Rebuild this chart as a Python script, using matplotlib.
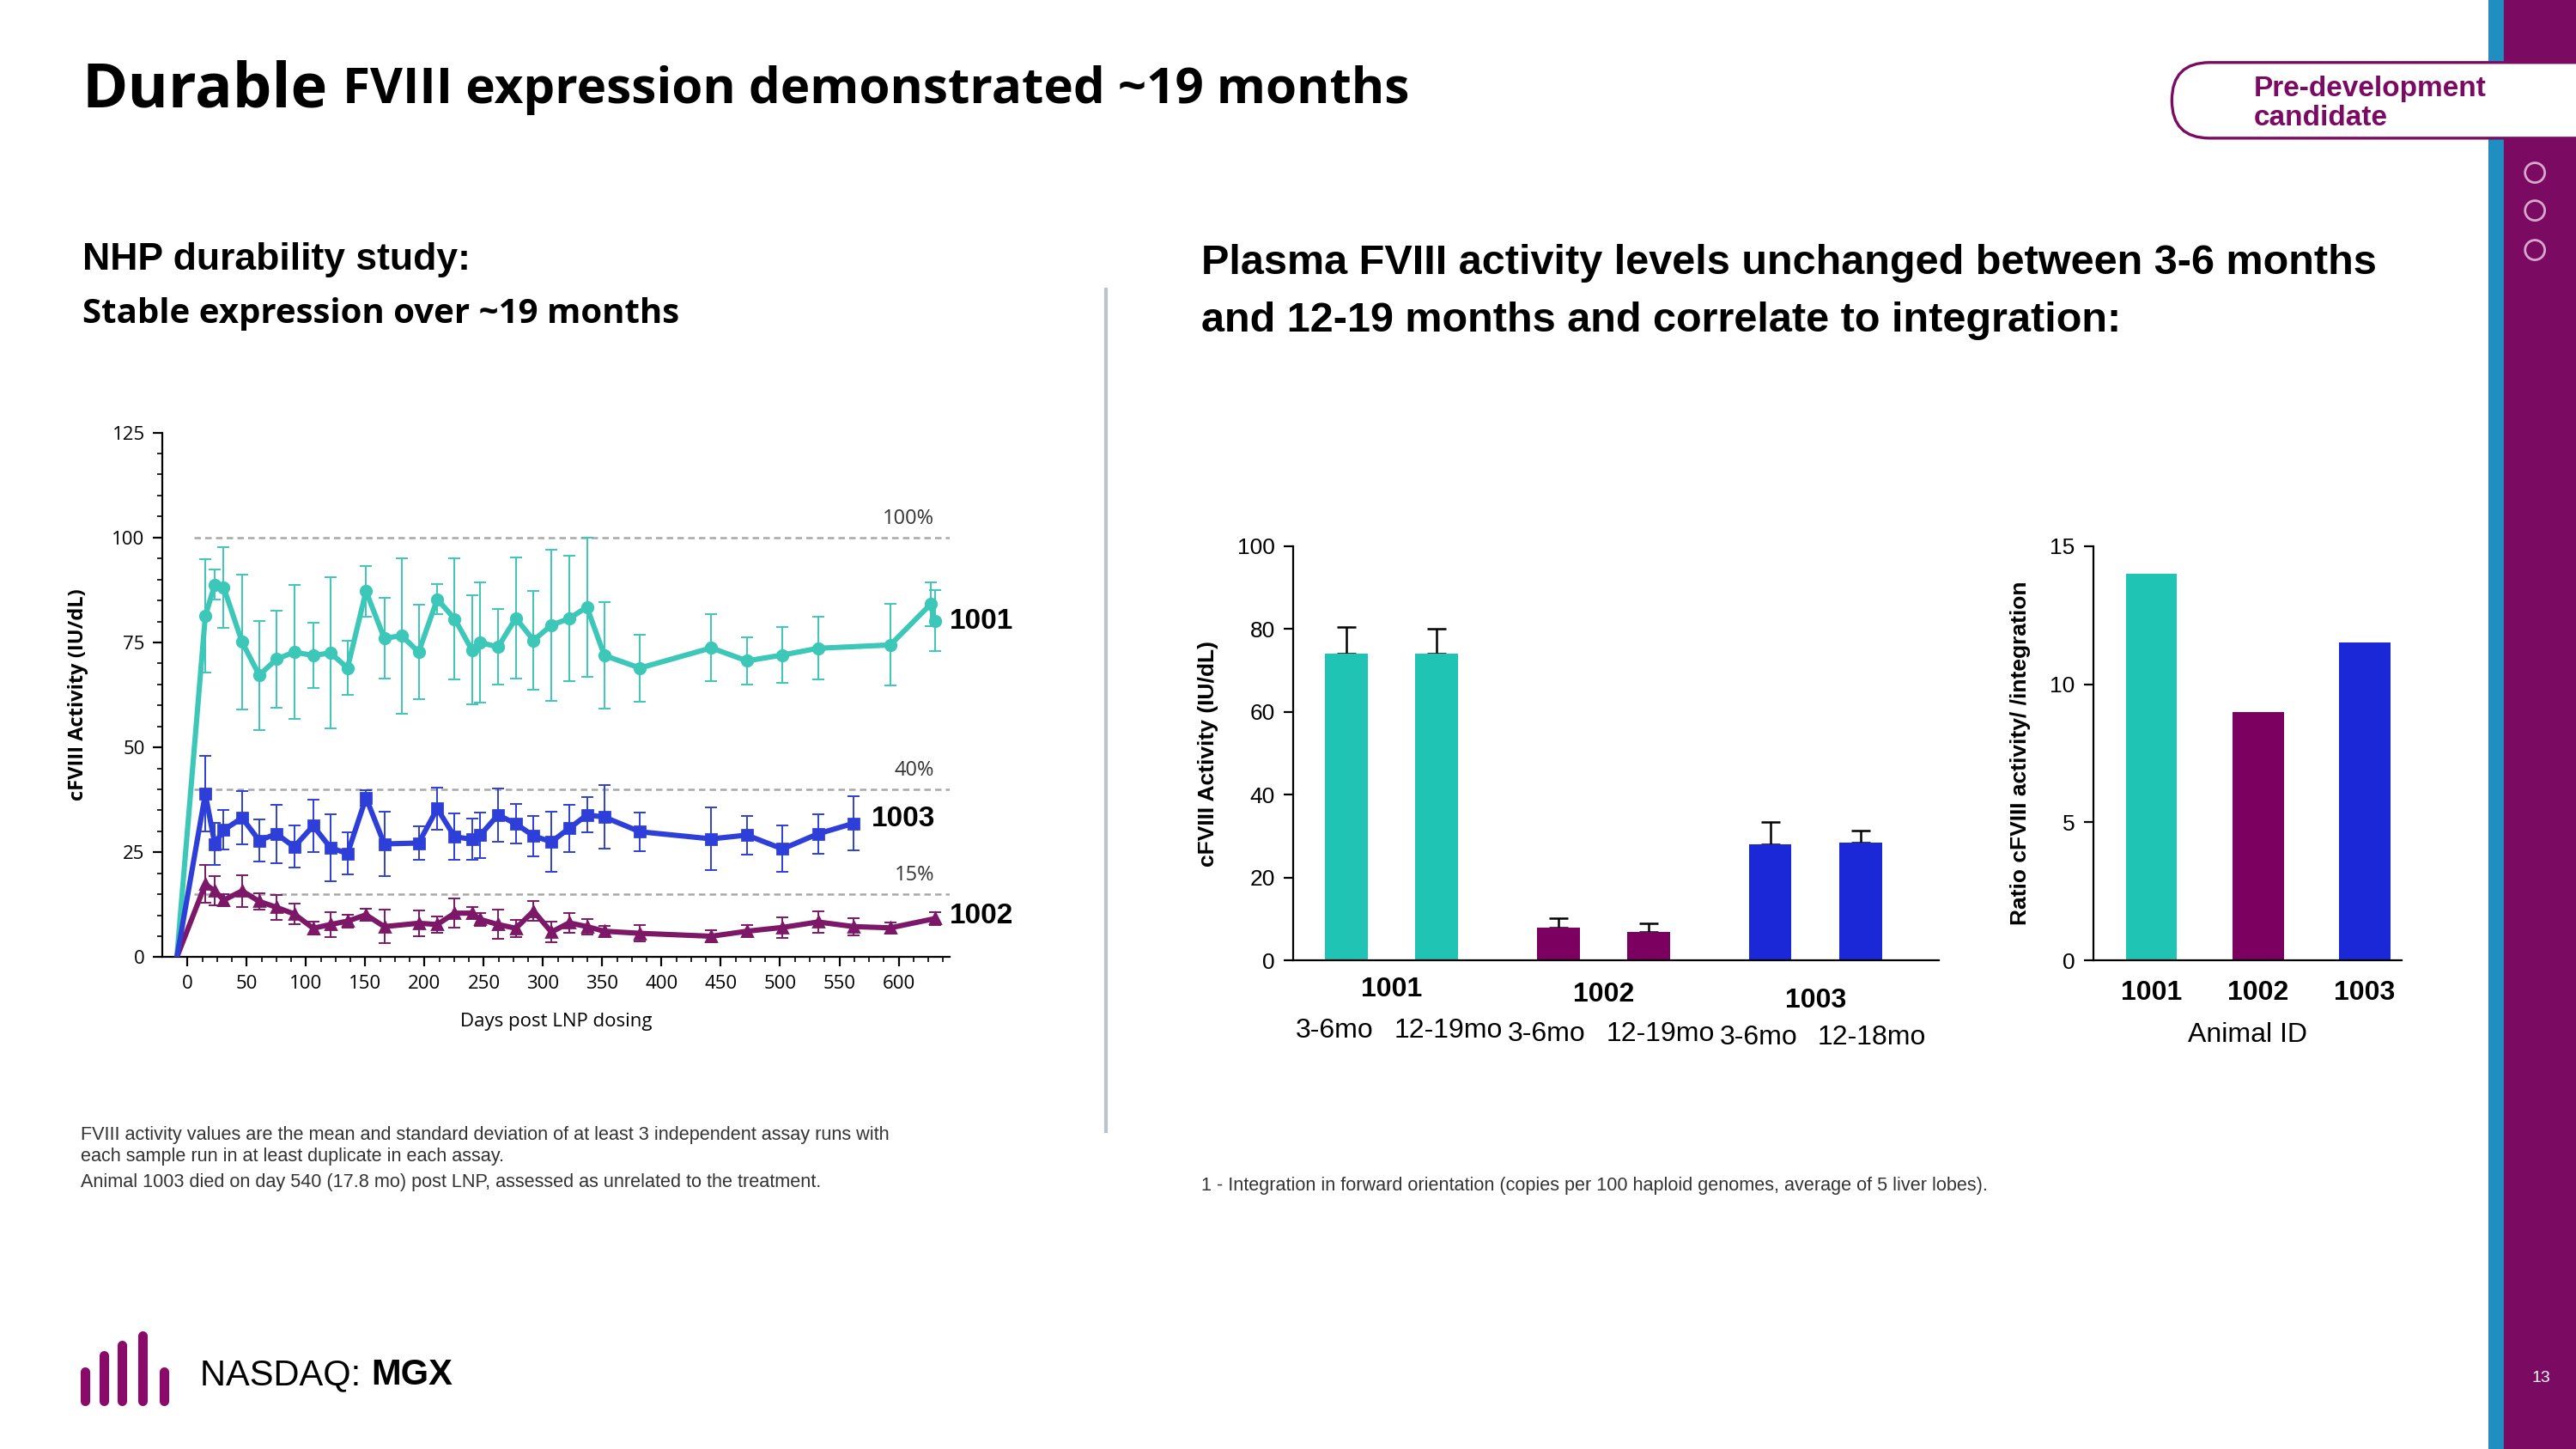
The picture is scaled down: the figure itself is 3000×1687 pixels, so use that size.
import matplotlib
matplotlib.use("Agg")
import matplotlib.pyplot as plt
from matplotlib.patches import Rectangle, FancyBboxPatch
import numpy as np

# ---------------- data ----------------
days_1001 = [15, 23, 30.5, 46, 60.5, 75, 90, 106, 120.6, 135, 150.6, 166, 180.7, 195, 210.7, 225.4, 240, 247, 262, 277, 292, 307, 322, 337, 351.7, 381.7, 442, 472, 502, 532, 593, 627, 630.5]
vals_1001 = [81.3, 88.8, 88.1, 75.1, 67.2, 71, 72.7, 71.9, 72.5, 68.9, 87.2, 76, 76.6, 72.7, 85.3, 80.6, 73.2, 75, 73.9, 80.8, 75.5, 79.1, 80.7, 83.4, 71.9, 68.9, 73.7, 70.6, 72, 73.6, 74.4, 84.1, 80.2]
err_1001 = [13.5, 3.5, 9.7, 16, 13, 11.5, 16, 7.8, 18, 6.4, 6.1, 9.7, 18.5, 11.3, 3.6, 14.5, 13, 14.3, 9, 14.4, 11.8, 18, 14.9, 16.6, 12.7, 8, 8, 5.7, 6.7, 7.5, 9.7, 5.2, 7.3]

days_1003 = [15, 23, 30.5, 46, 60.5, 75, 90, 106, 120.6, 135, 150.6, 166, 195, 210.7, 225.4, 240, 247, 262, 277, 292, 307, 322, 337, 351.7, 381.7, 442, 472, 502, 532, 562]
vals_1003 = [38.9, 27, 30.3, 33.2, 27.8, 29.4, 26.3, 31.3, 26.1, 24.7, 38, 27, 27.2, 35.4, 28.7, 28.1, 29.1, 33.9, 31.8, 28.9, 27.5, 30.7, 33.9, 33.4, 29.9, 28.2, 29.1, 25.8, 29.4, 31.9]
err_1003 = [9, 5, 4.7, 6.3, 5, 7, 5, 6.3, 8, 5, 1.8, 7.7, 3.9, 5, 5.5, 4.9, 5.4, 6.4, 4.7, 4.8, 7.2, 5.6, 4.2, 7.6, 4.6, 7.5, 4.6, 5.5, 4.7, 6.4]

days_1002 = [15, 23, 30.5, 46, 60.5, 75, 90, 106, 120.6, 135, 150.6, 166, 195, 210.7, 225.4, 240, 247, 262, 277, 292, 307, 322, 337, 351.7, 381.7, 442, 472, 502, 532, 562, 593, 630.5]
vals_1002 = [17.4, 15.8, 13.6, 15.8, 13.3, 11.9, 10.3, 6.9, 7.8, 8.6, 10.1, 7.3, 8.1, 7.8, 10.5, 10.5, 9, 7.8, 6.9, 11, 6, 8.2, 7.3, 6.2, 5.7, 5, 6.2, 7.1, 8.4, 7.3, 7, 9.2]
err_1002 = [4.5, 3.5, 1.5, 3.8, 2, 3, 2.5, 1.5, 3, 1.5, 1.5, 4, 3, 2, 3.5, 1.5, 1.5, 3.5, 2, 2.3, 2.5, 2.3, 1.8, 1.3, 2, 1.5, 1.5, 2.5, 2.5, 2, 1.3, 1.5]

start_day = -9
ref_levels = [100, 40, 15]
ref_labels = ["100%", "40%", "15%"]

animals = ["1001", "1002", "1003"]
periods = [["3-6mo", "12-19mo"], ["3-6mo", "12-19mo"], ["3-6mo", "12-18mo"]]
act_means = [[74, 74], [8, 6.8], [28, 28.4]]
act_err = [[6.5, 6], [2.2, 2.1], [5.5, 3]]
ratio = [14, 9, 11.5]

TEAL_L = "#3cc7b8"; BLUE_L = "#2d3fd8"; PURP_L = "#7d1868"
TEAL = "#20c4b4"; PURP = "#7b005f"; BLUE = "#1a28d8"
colors_bar = [TEAL, PURP, BLUE]

W, H = 1568, 881
def fx(x): return x / W
def fy(y): return 1 - y / H

fig = plt.figure(figsize=(15, 8.435), dpi=200)
fig.patch.set_facecolor("white")

# overlay axes in display-pixel units for decorations
ov = fig.add_axes([0, 0, 1, 1], zorder=-1)
ov.set_xlim(0, W); ov.set_ylim(H, 0); ov.axis("off")
ov.add_patch(Rectangle((1515, 0), 53, H, color="#7b0a62"))
ov.add_patch(Rectangle((1515, 0), 8, H, color="#1e8fc0"))
for yy in [105, 128, 152]:
    ov.add_patch(plt.Circle((1543, yy), 6, fill=False, ec="#d9a6cc", lw=1))
ov.add_patch(FancyBboxPatch((1322, 38), 300, 46, boxstyle="round,pad=0,rounding_size=23",
                            facecolor="white", edgecolor="#7b0a62", lw=1.2))
ov.text(1372, 54, "Pre-development", color="#7b0a62", fontsize=12, fontweight="bold",
        family="Liberation Sans", va="center")
ov.text(1372, 72, "candidate", color="#7b0a62", fontsize=12, fontweight="bold",
        family="Liberation Sans", va="center")
ov.plot([673, 673], [176, 688], color="#b8c4c8", lw=1.5)
for x, h in [(52, 18), (63, 28), (74, 34), (87, 40), (100, 18)]:
    ov.plot([x, x], [852, 852 - h], color="#8a0a6a", lw=4, solid_capstyle="round")
t_n = ov.text(122, 836, "NASDAQ: ", fontsize=15, family="Liberation Sans", va="center")
ov.annotate("MGX", xy=(1, 0.5), xycoords=t_n, fontsize=15, family="Liberation Sans", fontweight="bold", va="center")
ov.text(1541, 838, "13", fontsize=7, color="white", family="Liberation Sans", va="center")

# ---------------- titles ----------------
t_d = ov.text(50, 55, "Durable", fontsize=26, fontweight="bold", family="Open Sans", va="center")
ov.annotate("FVIII expression demonstrated ~19 months", xy=(1, 0.5), xycoords=t_d, xytext=(6, 0),
            textcoords="offset points", fontsize=21, fontweight="bold", family="Open Sans", va="center")
ov.text(50, 158, "NHP durability study:", fontsize=16, fontweight="bold", family="Liberation Sans", va="center")
ov.text(50, 191, "Stable expression over ~19 months", fontsize=14.5, fontweight="bold", family="Open Sans", va="center")
ov.text(731, 160, "Plasma FVIII activity levels unchanged between 3-6 months", fontsize=17.5,
        fontweight="bold", family="Liberation Sans", va="center")
ov.text(731, 195, "and 12-19 months and correlate to integration:", fontsize=17.5,
        fontweight="bold", family="Liberation Sans", va="center")
fs_note = 7.8
ov.text(49, 690, "FVIII activity values are the mean and standard deviation of at least 3 independent assay runs with",
        fontsize=fs_note, family="Liberation Sans", color="#333333", va="center")
ov.text(49, 703, "each sample run in at least duplicate in each assay.",
        fontsize=fs_note, family="Liberation Sans", color="#333333", va="center")
ov.text(49, 719, "Animal 1003 died on day 540 (17.8 mo) post LNP, assessed as unrelated to the treatment.",
        fontsize=fs_note, family="Liberation Sans", color="#333333", va="center")
ov.text(731, 721, "1 - Integration in forward orientation (copies per 100 haploid genomes, average of 5 liver lobes).",
        fontsize=fs_note, family="Liberation Sans", color="#333333", va="center")

# ---------------- left line chart ----------------
ax = fig.add_axes([fx(99), fy(582), fx(578) - fx(99), fy(263) - fy(582)])
series = [(days_1001, vals_1001, err_1001, "o", TEAL_L),
          (days_1002, vals_1002, err_1002, "^", PURP_L),
          (days_1003, vals_1003, err_1003, "s", BLUE_L)]
for d, v, e, m, c in series:
    ax.plot([start_day] + list(d), [0] + list(v), color=c, lw=2.2, zorder=3)
    ax.errorbar(d, v, yerr=e, fmt=m, color=c, ms=4.5, ecolor=c, elinewidth=0.7, capsize=2.5, capthick=0.7, lw=0, zorder=4)
for lvl, lab in zip(ref_levels, ref_labels):
    ax.axhline(lvl, xmin=0.04, color="#a8a8a8", ls=(0, (3, 2)), lw=0.9, zorder=1)
    ax.text(630, lvl + 2, lab, ha="right", va="bottom", fontsize=8.5, family="Open Sans", color="#333333")
for name, xx, yy in [("1001", 670, 80), ("1003", 604, 33), ("1002", 670, 9.8)]:
    ax.text(xx, yy, name, fontsize=12, fontweight="bold", family="Liberation Sans", ha="center", va="center", clip_on=False)
ax.set_xlim(-21, 643)
ax.set_ylim(0, 125)
ax.set_xticks(np.arange(0, 601, 50))
ax.set_xticks(np.arange(0, 643, 12.5), minor=True)
ax.set_yticks([0, 25, 50, 75, 100, 125])
ax.set_yticks(np.arange(0, 126, 5), minor=True)
ax.spines[["top", "right"]].set_visible(False)
ax.tick_params(labelsize=8, length=4, width=0.8)
ax.tick_params(which="minor", length=2, width=0.6)
for t in ax.get_xticklabels() + ax.get_yticklabels():
    t.set_family("Open Sans")
ax.set_xlabel("Days post LNP dosing", fontsize=8, family="Open Sans", labelpad=8)
ax.set_ylabel("cFVIII Activity (IU/dL)", fontsize=8.5, fontweight="bold", family="Open Sans", labelpad=10)

# ---------------- bar chart: activity ----------------
bx = fig.add_axes([fx(787), fy(584), fx(1180) - fx(787), fy(332) - fy(584)])
for g, a in enumerate(animals):
    center = 0.60 + 1.29 * g
    for k in range(2):
        pos = center + (k - 0.5) * 0.55
        bx.bar(pos, act_means[g][k], width=0.26, color=colors_bar[g], zorder=2)
        bx.errorbar(pos, act_means[g][k], yerr=[[0], [act_err[g][k]]], fmt="none", ecolor="black",
                    elinewidth=0.9, capsize=4, capthick=0.9, zorder=1)
        bx.text(pos + (k - 0.5) * 0.14, -17 - g * 0.8, periods[g][k], ha="center", va="center", fontsize=11.5,
                family="Liberation Sans", clip_on=False)
    bx.text(center, -7 - g * 1.3, a, ha="center", va="center", fontsize=11.5, fontweight="bold",
            family="Liberation Sans", clip_on=False)
bx.set_xlim(0, 3.93)
bx.set_ylim(0, 100)
bx.set_xticks([])
bx.set_yticks([0, 20, 40, 60, 80, 100])
bx.spines[["top", "right"]].set_visible(False)
bx.tick_params(labelsize=9.5, length=4)
for t in bx.get_yticklabels():
    t.set_family("Liberation Sans")
bx.set_ylabel("cFVIII Activity (IU/dL)", fontsize=9.5, fontweight="bold", family="Liberation Sans", labelpad=8)

# ---------------- bar chart: ratio ----------------
rx = fig.add_axes([fx(1274), fy(584), fx(1462) - fx(1274), fy(332) - fy(584)])
rx.bar(animals, ratio, width=0.48, color=colors_bar, zorder=2)
rx.set_xlim(-0.55, 2.35)
rx.set_ylim(0, 15)
rx.set_yticks([0, 5, 10, 15])
rx.spines[["top", "right"]].set_visible(False)
rx.tick_params(axis="x", length=0, labelsize=11.5, pad=8)
rx.tick_params(axis="y", labelsize=9.5, length=4)
for t in rx.get_xticklabels():
    t.set_fontweight("bold"); t.set_family("Liberation Sans")
for t in rx.get_yticklabels():
    t.set_family("Liberation Sans")
rx.set_xlabel("Animal ID", fontsize=11.5, family="Liberation Sans", labelpad=7)
rx.set_ylabel("Ratio cFVIII activity/ /integration", fontsize=9.5, fontweight="bold", family="Liberation Sans", labelpad=8)

fig.savefig("out.png", dpi=200, facecolor="white")
